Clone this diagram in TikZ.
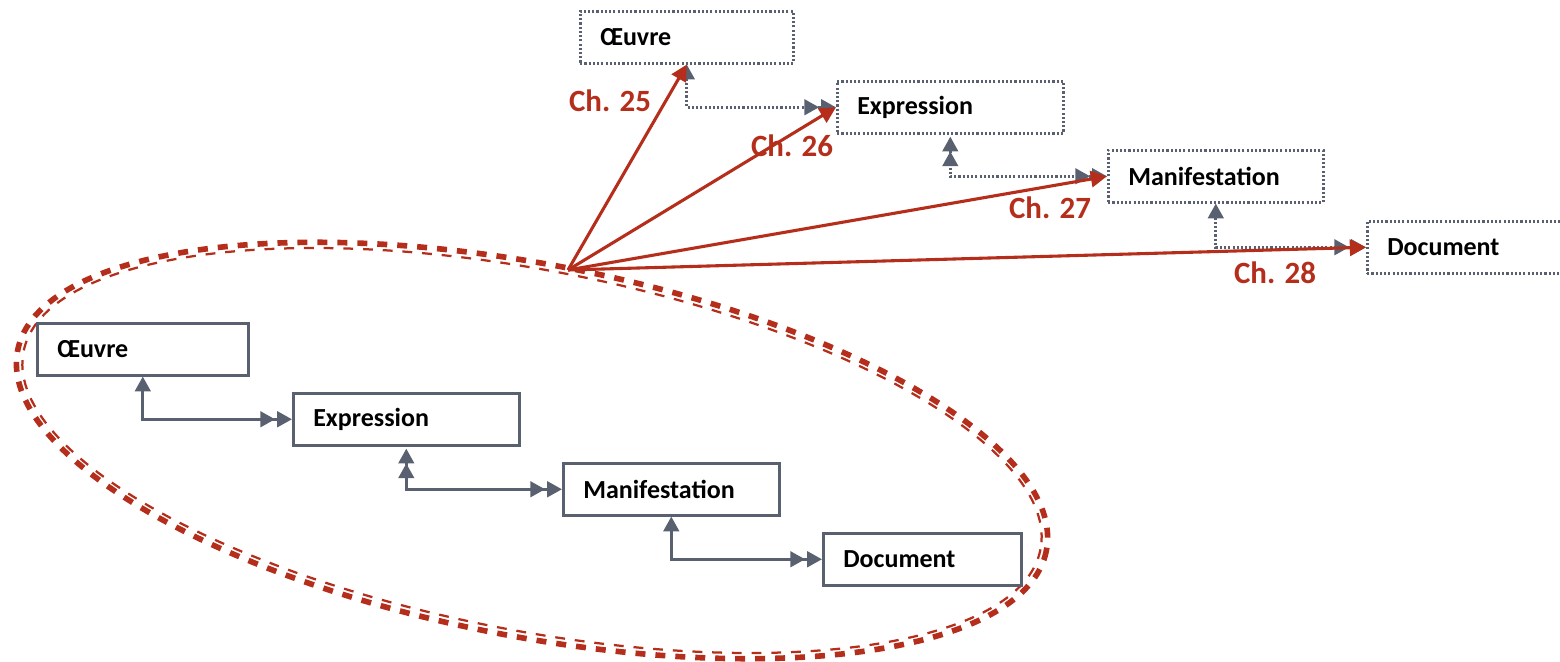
\documentclass[tikz,border=0pt]{standalone}
\usepackage{fontspec}
\setmainfont{Carlito}
\usetikzlibrary{arrows.meta}

\definecolor{gris}{RGB}{89,97,112}
\definecolor{rouge}{RGB}{181,46,28}

\tikzset{
  fl/.tip={Triangle[length=10.5pt,width=11pt]},
  flr/.tip={Triangle[length=11.5pt,width=11.5pt]},
  entite/.style={draw=gris, line width=1.8pt, fill=white, anchor=north west,
    text width=#1, align=left, inner xsep=0.5cm, inner ysep=0pt,
    minimum height=1.3cm, font=\fontsize{18.5}{22}\selectfont\bfseries},
  entiteH/.style={entite=#1, dash pattern=on 1.5pt off 1.5pt},
  lien/.style={gris, line width=2.1pt, fl-{fl[sep=1.5pt] fl}},
  lienD/.style={gris, line width=2.1pt, {fl[sep=1.5pt] fl}-{fl[sep=1.5pt] fl}},
  fleche/.style={rouge, line width=2.2pt, -flr},
  chap/.style={rouge, font=\fontsize{22}{26}\selectfont\bfseries},
}

\begin{document}
\begin{tikzpicture}[x=0.025cm, y=-0.025cm]
            \useasboundingbox (0,0) rectangle (1560,662);

            \coordinate (centre) at (532,450.5);
            \coordinate (origine) at (568,270);

            \coordinate (Op) at (36,322);
            \coordinate (Ep) at (292,392);
            \coordinate (Mp) at (562,462);
            \coordinate (Dp) at (822,532);
            \coordinate (OHp) at (579,10);
            \coordinate (EHp) at (836,80);
            \coordinate (MHp) at (1107,149);
            \coordinate (DHp) at (1366,220);

            \draw[rouge, line width=4pt, dash pattern=on 7.1pt off 7.1pt, rotate around={-11:(centre)}]
                (centre) ellipse [x radius=524, y radius=186];
            \draw[rouge, line width=1.6pt, dash pattern=on 7.01pt off 7.01pt, rotate around={-11:(centre)}]
                (centre) ellipse [x radius=518, y radius=180];

            \node[entite=4.275cm] (O) at (Op) {Œuvre};
            \node[entite=4.65cm] (E) at (Ep) {Expression};
            \node[entite=4.4cm] (M) at (Mp) {Manifestation};
            \node[entite=3.95cm] (D) at (Dp) {Document};
            \draw[lien] (O.south) |- (E.west);
            \draw[lienD] (E.south) |- (M.west);
            \draw[lien] (M.south) |- (D.west);

            \node[entiteH=4.325cm] (OH) at (OHp) {Œuvre};
            \node[entiteH=4.65cm] (EH) at (EHp) {Expression};
            \node[entiteH=4.375cm] (MH) at (MHp) {Manifestation};
            \node[entiteH=4.35cm] (DH) at (DHp) {Document};
            \draw[lien, dash pattern=on 1.5pt off 1.5pt] (OH.south) |- (EH.west);
            \draw[lienD, dash pattern=on 1.5pt off 1.5pt] (EH.south) |- (MH.west);
            \draw[lien, dash pattern=on 1.5pt off 1.5pt] (MH.south) |- (DH.west);

            \draw[fleche] (origine) -- (OH.south);
            \draw[fleche] (origine) -- (EH.west);
            \draw[fleche] (origine) -- (MH.west);
            \draw[fleche] (origine) -- (DH.west);

            \node[chap] (c25) at (610,101) {Ch. 25};
            \node[chap] (c26) at (792,146) {Ch. 26};
            \node[chap] (c27) at (1050,208) {Ch. 27};
            \node[chap] (c28) at (1275,273) {Ch. 28};

        \end{tikzpicture}
\end{document}
